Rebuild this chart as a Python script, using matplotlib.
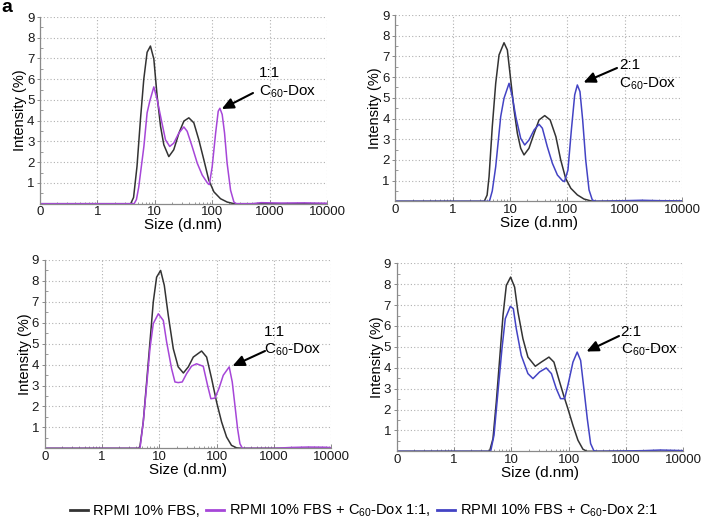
import numpy as np
import matplotlib
matplotlib.use("Agg")
import matplotlib.pyplot as plt
from matplotlib.lines import Line2D
from matplotlib.patches import FancyArrowPatch
from matplotlib.ticker import LogLocator, NullFormatter, FixedLocator, MultipleLocator

plt.rcParams['font.family'] = ['Liberation Sans', 'DejaVu Sans']
plt.rcParams['mathtext.default'] = 'regular'

# ---------------- data (log10 of size in nm, intensity %) ----------------
x_ticks = [0.1, 1, 10, 100, 1000, 10000]
x_ticklabels = ["0", "1", "10", "100", "1000", "10000"]
y_ticks = [1, 2, 3, 4, 5, 6, 7, 8, 9]

# panel 1 (top left)
p1_black_logsize = [-1, 0.58, 0.63, 0.69, 0.75, 0.808, 0.866, 0.924, 0.983, 1.04, 1.10, 1.157, 1.244,
                    1.33, 1.42, 1.506, 1.593, 1.68, 1.767, 1.855, 1.94, 2.03, 2.145, 2.26, 2.38, 4]
p1_black_int = [0, 0, 0.3, 1.8, 4.06, 6.0, 7.3, 7.6, 6.98, 5.2, 3.73, 2.84, 2.27,
                2.6, 3.4, 3.98, 4.14, 3.9, 3.08, 2.11, 1.14, 0.57, 0.24, 0.08, 0, 0]
p1_purple_logsize = [-1, 0.64, 0.68, 0.72, 0.81, 0.866, 0.913, 0.983, 1.04, 1.10, 1.186, 1.26, 1.33,
                     1.42, 1.506, 1.564, 1.65, 1.74, 1.826, 1.924, 1.95, 2.0, 2.06, 2.105, 2.134, 2.174,
                     2.215, 2.26, 2.32, 2.378, 2.42, 2.7, 2.85, 3.2, 3.6, 4]
p1_purple_int = [0, 0, 0.2, 0.8, 2.76, 4.38, 4.95, 5.63, 5.03, 4.22, 3.08, 2.76, 2.92,
                 3.41, 3.7, 3.49, 2.76, 1.95, 1.38, 0.97, 0.92, 1.79, 3.41, 4.46, 4.6, 4.3,
                 3.41, 1.95, 0.65, 0.08, 0, 0, 0.05, 0.03, 0.04, 0.02]

# panel 2 (top right)
p2_black_logsize = [-1, 0.55, 0.60, 0.634, 0.69, 0.75, 0.808, 0.895, 0.953, 1.012, 1.07, 1.128, 1.186,
                    1.244, 1.33, 1.42, 1.506, 1.605, 1.70, 1.80, 1.884, 1.97, 2.06, 2.174, 2.29, 2.41, 2.5, 4]
p2_black_int = [0, 0, 0.3, 1.19, 3.6, 5.7, 7.07, 7.66, 7.31, 5.86, 4.41, 3.28, 2.56,
                2.24, 2.56, 3.28, 3.93, 4.14, 3.93, 3.12, 2.0, 1.11, 0.63, 0.31, 0.11, 0.02, 0, 0]
p2_blue_logsize = [-1, 0.64, 0.69, 0.75, 0.837, 0.895, 0.983, 1.04, 1.10, 1.186, 1.256, 1.33, 1.42,
                   1.506, 1.564, 1.65, 1.738, 1.826, 1.913, 1.95, 2.01, 2.07, 2.128, 2.174, 2.22, 2.267,
                   2.32, 2.378, 2.436, 2.5, 3.0, 3.3, 3.6, 4]
p2_blue_int = [0, 0, 0.5, 1.67, 4.09, 4.98, 5.7, 5.06, 4.09, 3.04, 2.72, 2.96, 3.45,
               3.72, 3.53, 2.64, 1.84, 1.27, 1.0, 0.95, 1.51, 3.45, 5.14, 5.62, 5.3, 3.93,
               2.0, 0.55, 0.06, 0, 0.03, 0.05, 0.03, 0.02]

# panel 3 (bottom left)
p3_black_logsize = [-1, 0.64, 0.663, 0.72, 0.779, 0.837, 0.895, 0.953, 1.023, 1.087, 1.157, 1.244, 1.33,
                    1.42, 1.506, 1.593, 1.738, 1.826, 1.913, 2.0, 2.087, 2.174, 2.26, 2.35, 2.45, 4]
p3_black_int = [0, 0, 0.1, 1.26, 3.17, 5.08, 7.0, 8.18, 8.5, 7.79, 6.35, 4.76, 3.89,
                3.6, 3.89, 4.36, 4.65, 4.36, 3.33, 2.21, 1.26, 0.54, 0.14, 0.02, 0, 0]
p3_purple_logsize = [-1, 0.663, 0.72, 0.779, 0.837, 0.895, 0.983, 1.07, 1.128, 1.215, 1.273, 1.33, 1.40,
                     1.477, 1.564, 1.65, 1.767, 1.843, 1.90, 1.971, 2.04, 2.116, 2.22, 2.273, 2.32, 2.366,
                     2.407, 2.45, 3.0, 3.3, 3.6, 3.9, 4]
p3_purple_int = [0, 0, 1.26, 3.0, 4.76, 5.96, 6.43, 6.11, 5.08, 3.8, 3.17, 3.14, 3.17,
                 3.57, 3.93, 4.04, 3.92, 3.0, 2.37, 2.40, 2.85, 3.49, 3.89, 3.17, 2.05, 0.94,
                 0.22, 0, 0, 0.04, 0.06, 0.05, 0.03]

# panel 4 (bottom right)
p4_black_logsize = [-1, 0.62, 0.68, 0.738, 0.797, 0.855, 0.913, 0.988, 1.058, 1.116, 1.203, 1.29, 1.419,
                    1.523, 1.657, 1.744, 1.826, 1.913, 1.988, 2.076, 2.163, 2.25, 2.32, 4]
p4_black_int = [0, 0, 0.6, 2.36, 4.43, 6.5, 7.94, 8.34, 7.86, 6.67, 5.39, 4.51, 4.07,
                4.27, 4.51, 4.27, 3.48, 2.68, 2.04, 1.24, 0.53, 0.1, 0, 0]
p4_blue_logsize = [-1, 0.64, 0.698, 0.767, 0.837, 0.895, 0.983, 1.035, 1.087, 1.174, 1.29, 1.378, 1.494,
                   1.61, 1.70, 1.785, 1.86, 1.93, 1.988, 2.076, 2.15, 2.21, 2.267, 2.326, 2.384, 2.44,
                   2.5, 3.3, 3.6, 3.9, 4]
p4_blue_int = [0, 0, 0.77, 2.84, 4.91, 6.35, 6.94, 6.83, 5.87, 4.59, 3.72, 3.48, 3.80,
               3.99, 3.72, 3.0, 2.52, 2.52, 3.16, 4.27, 4.75, 4.35, 3.0, 1.56, 0.37, 0.03,
               0, 0.03, 0.06, 0.04, 0.03]

legend_labels = ["RPMI 10% FBS,", "RPMI 10% FBS + C$_{60}$-Dox 1:1,", "RPMI 10% FBS + C$_{60}$-Dox 2:1"]
annot_ratio = ["1:1", "2:1", "1:1", "2:1"]

# ---------------- styling ----------------
BLACK = "#333333"
PURPLE = "#a646d8"
BLUE = "#4343c4"
W, H = 708, 519

fig = plt.figure(figsize=(W / 100, H / 100), dpi=100)

def px_axes(left, right, top, bottom):
    return fig.add_axes([left / W, 1 - bottom / H, (right - left) / W, (bottom - top) / H])

panels = [
    dict(box=(40, 327, 17, 203.7),
         series=[(p1_black_logsize, p1_black_int, BLACK), (p1_purple_logsize, p1_purple_int, PURPLE)],
         arrow=((253, 93), (221.7, 109)), text=(259, 73, 92)),
    dict(box=(395.4, 682, 15, 201.3),
         series=[(p2_black_logsize, p2_black_int, BLACK), (p2_blue_logsize, p2_blue_int, BLUE)],
         arrow=((617, 68), (583.5, 82.5)), text=(619, 65, 84)),
    dict(box=(44.7, 331.2, 260, 448.3),
         series=[(p3_black_logsize, p3_black_int, BLACK), (p3_purple_logsize, p3_purple_int, PURPLE)],
         arrow=((265, 351), (232.5, 366)), text=(264, 332, 350)),
    dict(box=(396.7, 683.2, 263.3, 451.3),
         series=[(p4_black_logsize, p4_black_int, BLACK), (p4_blue_logsize, p4_blue_int, BLUE)],
         arrow=((619, 336), (586.5, 351.5)), text=(620.7, 332, 350)),
]

for i, p in enumerate(panels):
    ax = px_axes(*p["box"])
    for lx, yv, c in p["series"]:
        ax.plot(10 ** np.array(lx), yv, color=c, lw=1.1, solid_joinstyle='round')
    ax.set_xscale('log')
    ax.set_xlim(0.1, 10000)
    ax.set_ylim(0, 9)
    ax.xaxis.set_major_locator(FixedLocator(x_ticks))
    ax.set_xticklabels(x_ticklabels)
    ax.xaxis.set_minor_locator(LogLocator(base=10, subs=np.arange(2, 10), numticks=20))
    ax.xaxis.set_minor_formatter(NullFormatter())
    ax.set_yticks(y_ticks)
    ax.yaxis.set_minor_locator(MultipleLocator(0.5))
    ax.grid(True, which='major', linestyle=(0, (1, 2)), color='#b0b0b0', lw=0.8)
    for s in ['top', 'right']:
        ax.spines[s].set_visible(False)
    for s in ['left', 'bottom']:
        ax.spines[s].set_color('#8a8a8a')
        ax.spines[s].set_linewidth(0.9)
    ax.tick_params(axis='both', which='major', labelsize=9.5, colors='#8a8a8a', labelcolor='#1a1a1a',
                   length=3, width=0.7, pad=2, direction='in')
    ax.tick_params(axis='y', which='major', direction='out', length=2.5, pad=1.5)
    ax.tick_params(axis='both', which='minor', colors='#8a8a8a', length=1.8, width=0.6, direction='in')
    ax.set_xlabel("Size (d.nm)", fontsize=11, labelpad=0)
    ax.set_ylabel("Intensity (%)", fontsize=10.5, labelpad=0)
    # annotation
    (tx, ty), (hx, hy) = p["arrow"]
    fig.add_artist(FancyArrowPatch(
        (tx / W, 1 - ty / H), (hx / W, 1 - hy / H), transform=fig.transFigure,
        arrowstyle='-|>,head_length=7,head_width=3.2', color='black', lw=1.5,
        shrinkA=0, shrinkB=0))
    xl, y1, y2 = p["text"]
    fig.text(xl / W, 1 - y1 / H, annot_ratio[i], fontsize=11, va='center', ha='left')
    fig.text(xl / W, 1 - y2 / H, "C$_{60}$-Dox", fontsize=11, va='center', ha='left')

fig.text(1 / W, 1 - 7 / H, "a", fontsize=14, fontweight='bold', va='center', ha='left')

handles = [Line2D([0], [0], color=BLACK, lw=2), Line2D([0], [0], color=PURPLE, lw=2),
           Line2D([0], [0], color=BLUE, lw=2)]
fig.legend(handles, legend_labels, loc='center', bbox_to_anchor=(364 / W, 1 - 511 / H),
           ncol=3, frameon=False, fontsize=10.5, handlelength=1.25, handletextpad=0.35,
           columnspacing=0.4, borderaxespad=0, borderpad=0)

fig.savefig("out.png", dpi=100)
